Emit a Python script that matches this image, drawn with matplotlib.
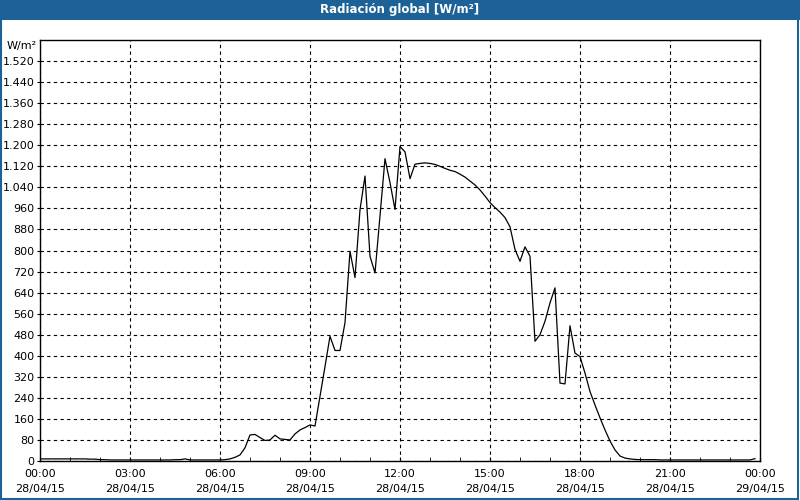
import numpy as np
import pandas as pd
import matplotlib
matplotlib.use("Agg")
import matplotlib.pyplot as plt
import matplotlib.dates as mdates
from matplotlib.ticker import FuncFormatter, MultipleLocator
from matplotlib.patches import Rectangle

# 10-minute readings, 28/04/15 00:00 .. 23:50
night_am = [8, 8, 8, 8, 8, 8, 8, 8, 8, 8, 7, 7,
            5, 5, 4, 4, 4, 4, 4, 4, 4, 4, 4, 4,
            4, 4, 4, 5, 5, 8, 4, 4, 4, 4, 4, 4]
day = [4, 5, 8, 14, 23, 50,            # 06:00
       99, 101, 89, 78, 80, 98,        # 07:00
       84, 82, 80, 103, 118, 127,      # 08:00
       137, 133, 245, 359, 474, 420,   # 09:00
       420, 526, 797, 697, 955, 1083,  # 10:00
       778, 715, 931, 1149, 1058, 956, # 11:00
       1195, 1175, 1073, 1128, 1131, 1133,  # 12:00
       1131, 1127, 1120, 1112, 1105, 1100,  # 13:00
       1090, 1079, 1064, 1049, 1030, 1007,  # 14:00
       982, 963, 946, 925, 890, 804,   # 15:00
       759, 814, 778, 455, 480, 531,   # 16:00
       601, 658, 296, 293, 514, 410,   # 17:00
       397, 334, 264, 213, 164, 118,   # 18:00
       76, 42, 19, 11, 8, 6]           # 19:00
night_pm = [5, 5, 5, 5, 4, 4,
            4, 4, 4, 4, 4, 4,
            4, 4, 4, 4, 4, 4,
            4, 4, 4, 4, 4, 9]

values = night_am + day + night_pm
times = pd.date_range("2015-04-28 00:00", periods=len(values), freq="10min")

blue = "#1d6297"
plt.rcParams["font.family"] = "DejaVu Sans"

fig = plt.figure(figsize=(8, 5), dpi=100)
fig.patch.set_facecolor("white")

# title bar and frame
fig.patches.append(Rectangle((0, 0.96), 1, 0.04, transform=fig.transFigure,
                             facecolor=blue, edgecolor="none", zorder=0))
fig.patches.append(Rectangle((0.001, 0.002), 0.997, 0.996, transform=fig.transFigure,
                             facecolor="none", edgecolor=blue, lw=1.5, zorder=0))
fig.text(0.5, 0.98, "Radiación global [W/m²]", color="white", fontsize=8.5,
         fontweight="bold", ha="center", va="center")

ax = fig.add_axes([0.05, 0.078, 0.90, 0.842])
ax.plot(times, values, color="black", lw=0.9)

ax.set_xlim(pd.Timestamp("2015-04-28 00:00"), pd.Timestamp("2015-04-29 00:00"))
ax.set_ylim(0, 1600)

ax.xaxis.set_major_locator(mdates.HourLocator(byhour=range(0, 24, 3)))
ax.xaxis.set_minor_locator(mdates.HourLocator())
ax.xaxis.set_major_formatter(mdates.DateFormatter("%H:%M\n%d/%m/%y"))

ax.set_yticks(np.arange(0, 1600, 80))
ax.yaxis.set_major_formatter(FuncFormatter(lambda v, p: f"{int(v):,}".replace(",", ".")))

ax.grid(True, which="major", color="black", lw=0.8, linestyle=(0, (3, 3)))
ax.tick_params(axis="x", which="major", direction="in", length=3, labelsize=8, pad=6)
ax.tick_params(axis="x", which="minor", direction="in", length=3)
ax.tick_params(axis="y", which="major", direction="out", length=2, labelsize=8, pad=2)
for s in ax.spines.values():
    s.set_linewidth(1.0)
for lab in ax.get_xticklabels():
    lab.set_linespacing(1.6)

fig.text(0.046, 0.908, "W/m²", fontsize=8, ha="right", va="center")

fig.savefig("out.png", dpi=100)
